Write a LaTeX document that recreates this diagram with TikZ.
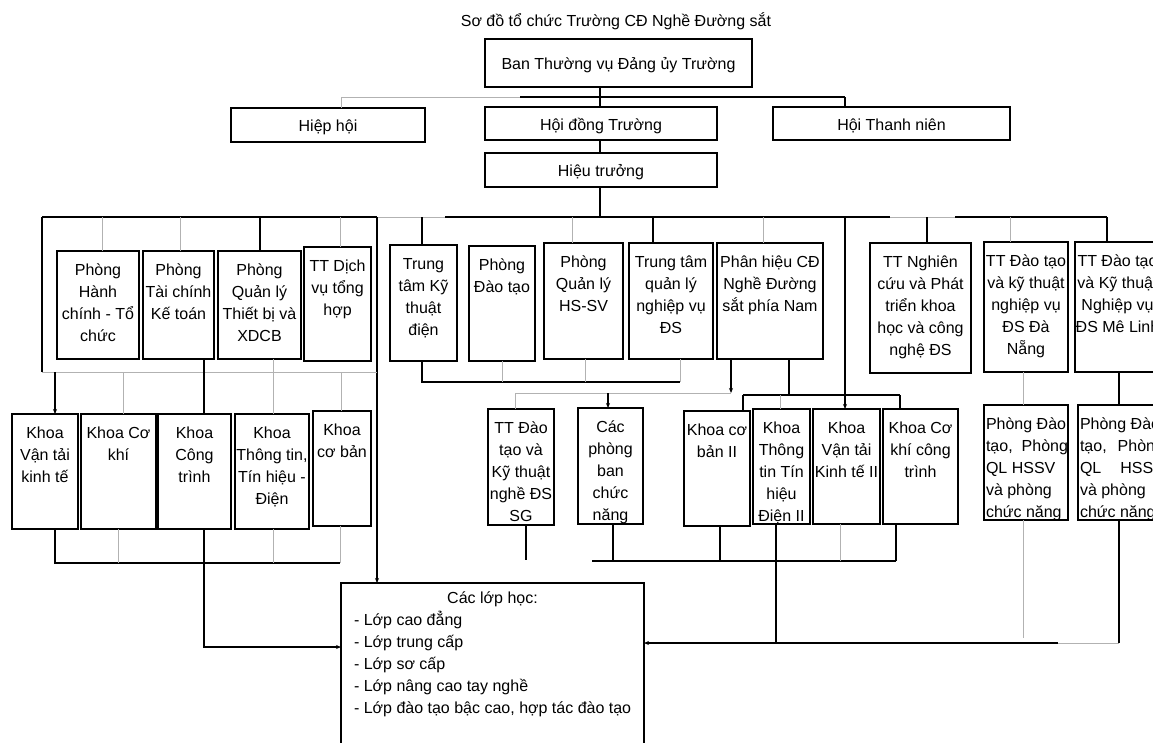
\documentclass[tikz,border=0pt]{standalone}
\usepackage{fontspec}
\setmainfont{Liberation Sans}
\usetikzlibrary{arrows.meta}

% multi-line box: name, left, top, right, bottom, text (top aligned, centred)
\newcommand\orgbox[6]{\node[bx] (#1) at (#2,#3)
  {\parbox[c][\dimexpr #5pt-#3pt\relax][t]{\dimexpr #4pt-#2pt\relax}{\centering\rule{0pt}{24pt}#6\par}};}
% single-line box: text centred both ways
\newcommand\onebox[6]{\node[bx] (#1) at (#2,#3)
  {\parbox[c][\dimexpr #5pt-#3pt\relax][c]{\dimexpr #4pt-#2pt\relax}{\centering\raisebox{-2.5pt}[\height][\depth]{#6}\par}};}
% box with left-aligned text
\newcommand\leftbox[6]{\node[bx] (#1) at (#2,#3)
  {\parbox[c][\dimexpr #5pt-#3pt\relax][t]{\dimexpr #4pt-#2pt\relax}{\raggedright\leftskip=2pt\rule{0pt}{24pt}#6\par}};}

\begin{document}
\begin{tikzpicture}[x=1pt,y=-1pt,
  every node/.style={font=\fontsize{16pt}{22pt}\selectfont},
  bx/.style={draw, line width=1.8pt, anchor=north west, inner sep=0pt, outer sep=0pt, fill=white},
  ln/.style={line width=1.5pt, black},
  fl/.style={line width=1pt, black!30},
  tip/.style={-{Stealth[length=5pt,width=4pt]}}]
\useasboundingbox (0,0) rectangle (1153,742);
\clip (0,0) rectangle (1153,742);

% ---------- title and top levels ----------
\node (title) at (616,21) {Sơ đồ tổ chức Trường CĐ Nghề Đường sắt};
\onebox{ban}{485}{39}{752}{87}{Ban Thường vụ Đảng ủy Trường}
\onebox{hoidong}{485}{107}{717}{140}{Hội đồng Trường}
\onebox{hieutruong}{485}{153}{717}{187}{Hiệu trưởng}
\onebox{hiephoi}{231}{108}{425}{142}{Hiệp hội}
\onebox{thanhnien}{773}{107}{1010}{140}{Hội Thanh niên}

% ---------- second row ----------
\orgbox{phc}{57}{251}{139}{359}{Phòng\\Hành\\chính - Tổ\\chức}
\orgbox{ptc}{143}{251}{214}{359}{Phòng\\Tài chính\\Kế toán}
\orgbox{pql}{218}{251}{301}{359}{Phòng\\Quản lý\\Thiết bị và\\XDCB}
\orgbox{ttdv}{304}{247}{371}{361}{TT Dịch\\vụ tổng\\hợp}
\orgbox{ttkt}{390}{245}{457}{361}{Trung\\tâm Kỹ\\thuật\\điện}
\orgbox{pdt}{469}{246}{535}{361}{Phòng\\Đào tạo}
\orgbox{pqlhs}{544}{243}{623}{359}{Phòng\\Quản lý\\HS-SV}
\orgbox{ttqlnv}{629}{243}{713}{359}{Trung tâm\\quản lý\\nghiệp vụ\\ĐS}
\orgbox{phanhieu}{717}{243}{823}{359}{Phân hiệu CĐ\\Nghề Đường\\sắt phía Nam}
\orgbox{ttnc}{870}{243}{971}{373}{TT Nghiên\\cứu và Phát\\triển khoa\\học và công\\nghệ ĐS}
\orgbox{ttdn}{984}{242}{1068}{372}{TT Đào tạo\\và kỹ thuật\\nghiệp vụ\\ĐS Đà\\Nẵng}
\orgbox{ttml}{1075}{242}{1160}{372}{TT Đào tạo\\và Kỹ thuật\\Nghiệp vụ\\ĐS Mê Linh}

% ---------- third row ----------
\orgbox{kvt}{12}{414}{78}{529}{Khoa\\Vận tải\\kinh tế}
\orgbox{kck}{81}{414}{156}{529}{Khoa Cơ\\khí}
\orgbox{kct}{158}{414}{231}{529}{Khoa\\Công\\trình}
\orgbox{kttd}{235}{414}{309}{529}{Khoa\\Thông tin,\\Tín hiệu -\\Điện}
\orgbox{kcb}{313}{411}{371}{526}{Khoa\\cơ bản}
\orgbox{ttsg}{488}{409}{554}{525}{TT Đào\\tạo và\\Kỹ thuật\\nghề ĐS\\SG}
\orgbox{cpb}{578}{408}{643}{524}{Các\\phòng\\ban\\chức\\năng}
\orgbox{kcb2}{684}{411}{750}{526}{Khoa cơ\\bản II}
\orgbox{ktt2}{753}{409}{810}{524}{Khoa\\Thông\\tin Tín\\hiệu\\Điện II}
\orgbox{kvt2}{813}{409}{880}{524}{Khoa\\Vận tải\\Kinh tế II}
\orgbox{kckct}{883}{409}{958}{524}{Khoa Cơ\\khí công\\trình}
\leftbox{pdn}{984}{405}{1068}{520}{Phòng Đào\\tạo,\hfill Phòng\\QL HSSV\\và phòng\\chức năng}
\leftbox{pml}{1078}{405}{1164}{520}{Phòng Đào\\tạo,\hfill Phòng\\QL\hfill HSSV\\và phòng\\chức năng}

% ---------- classes ----------
\node[bx] (lop) at (341,583) {\parbox[c][180pt][t]{303pt}{\centering\rule{0pt}{20pt}Các lớp học:\par
  \raggedright\leftskip=13pt
  - Lớp cao đẳng\\
  - Lớp trung cấp\\
  - Lớp sơ cấp\\
  - Lớp nâng cao tay nghề\\
  - Lớp đào tạo bậc cao, hợp tác đào tạo\par}};

% ---------- upper connectors ----------
\coordinate (tb) at (600,97);
\coordinate (tbH) at (341,97);
\coordinate (tbL) at (520,97);
\coordinate (tbR) at (845,97);
\coordinate (mb) at (600,217);
\draw[ln] (ban.south -| tb) -- (hoidong.north -| tb);
\draw[ln] (hoidong.south -| tb) -- (hieutruong.north -| tb);
\draw[ln] (hieutruong.south -| mb) -- (mb);
\draw[fl] (tbH) -- (tbL);
\draw[ln] (tbL) -- (tbR);
\draw[fl] (tbH) -- (hiephoi.north -| tbH);
\draw[ln] (tbR) -- (thanhnien.north -| tbR);

% main bus under the principal
\coordinate (mL) at (42,217);
\coordinate (m377) at (377,217);
\coordinate (m445) at (445,217);
\coordinate (m890) at (890,217);
\coordinate (m955) at (955,217);
\coordinate (mR) at (1107,217);
\draw[ln] (mL) -- (m377);
\draw[fl] (m377) -- (m445);
\draw[ln] (m445) -- (m890);
\draw[fl] (m890) -- (m955);
\draw[ln] (m955) -- (mR);

\coordinate (d102) at (102,217);
\coordinate (d180) at (180,217);
\coordinate (d260) at (260,217);
\coordinate (d340) at (340,217);
\coordinate (d422) at (422,217);
\coordinate (d572) at (572,217);
\coordinate (d653) at (653,217);
\coordinate (d763) at (763,217);
\coordinate (d845) at (845,217);
\coordinate (d927) at (927,217);
\coordinate (d1010) at (1010,217);
\draw[fl] (d102) -- (phc.north -| d102);
\draw[fl] (d180) -- (ptc.north -| d180);
\draw[ln] (d260) -- (pql.north -| d260);
\draw[fl] (d340) -- (ttdv.north -| d340);
\draw[ln] (d422) -- (ttkt.north -| d422);
\draw[fl] (d572) -- (pqlhs.north -| d572);
\draw[ln] (d653) -- (ttqlnv.north -| d653);
\draw[fl] (d763) -- (phanhieu.north -| d763);
\draw[ln] (d927) -- (ttnc.north -| d927);
\draw[fl] (d1010) -- (ttdn.north -| d1010);
\draw[ln] (mR) -- (ttml.north -| mR);
\draw[ln,tip] (m377) -- (lop.north -| m377);
\draw[ln,tip] (d845) -- (kvt2.north -| d845);

% ---------- left group ----------
\coordinate (lb) at (42,372);
\coordinate (lbR) at (377,372);
\coordinate (l55) at (55,372);
\coordinate (l123) at (123,372);
\coordinate (l341) at (341,372);
\coordinate (x204) at (204,0);
\coordinate (x273) at (273,0);
\draw[ln] (mL) -- (lb);
\draw[fl] (lb) -- (lbR);
\draw[ln,tip] (l55) -- (kvt.north -| l55);
\draw[fl] (l123) -- (kck.north -| l123);
\draw[fl] (l341) -- (kcb.north -| l341);
\draw[ln] (ptc.south -| x204) -- (kct.north -| x204);
\draw[fl] (pql.south -| x273) -- (kttd.north -| x273);

\coordinate (lo55) at (55,563);
\coordinate (lo118) at (118,563);
\coordinate (lo273) at (273,563);
\coordinate (lo340) at (340,563);
\coordinate (lc) at (204,647);
\draw[ln] (kvt.south -| lo55) -- (lo55) -- (lo340);
\draw[fl] (kck.south -| lo118) -- (lo118);
\draw[fl] (kttd.south -| lo273) -- (lo273);
\draw[fl] (kcb.south -| lo340) -- (lo340);
\draw[ln,tip] (kct.south -| lc) -- (lc) -- (lop.west |- lc);

% ---------- middle group ----------
\coordinate (mb422) at (422,382);
\coordinate (mb502) at (502,382);
\coordinate (mb585) at (585,382);
\coordinate (mb680) at (680,382);
\draw[ln] (ttkt.south -| mb422) -- (mb422) -- (mb680);
\draw[fl] (pdt.south -| mb502) -- (mb502);
\draw[fl] (pqlhs.south -| mb585) -- (mb585);
\draw[fl] (ttqlnv.south -| mb680) -- (mb680);

\coordinate (p731) at (731,393);
\coordinate (p515) at (515,393);
\coordinate (p608) at (608,393);
\draw[ln,tip] (phanhieu.south -| p731) -- (p731);
\draw[fl] (p731) -- (p515);
\draw[fl] (p515) -- (ttsg.north -| p515);
\draw[ln,tip] (p608) -- (cpb.north -| p608);

\coordinate (p789) at (789,395);
\coordinate (p743) at (743,395);
\coordinate (p780) at (780,395);
\coordinate (p900) at (900,395);
\draw[ln] (phanhieu.south -| p789) -- (p789);
\draw[ln] (p743) -- (p900);
\draw[ln] (p743) -- (kcb2.north -| p743);
\draw[fl] (p780) -- (ktt2.north -| p780);
\draw[ln] (p900) -- (kckct.north -| p900);

\coordinate (q526) at (526,560);
\coordinate (q592) at (592,561);
\coordinate (q613) at (613,561);
\coordinate (q720) at (720,561);
\coordinate (q840) at (840,561);
\coordinate (q896) at (896,561);
\draw[ln] (ttsg.south -| q526) -- (q526);
\draw[ln] (q592) -- (q896);
\draw[ln] (cpb.south -| q613) -- (q613);
\draw[ln] (kcb2.south -| q720) -- (q720);
\draw[fl] (kvt2.south -| q840) -- (q840);
\draw[ln] (kckct.south -| q896) -- (q896);

% ---------- bottom return line ----------
\coordinate (r776) at (776,643);
\coordinate (r1058) at (1058,643);
\coordinate (r1119) at (1119,643);
\coordinate (s1023) at (1023,638);
\coordinate (x1023) at (1023,0);
\coordinate (x1119) at (1119,0);
\draw[ln] (ktt2.south -| r776) -- (r776);
\draw[ln,tip] (r1058) -- (lop.east |- r1058);
\draw[fl] (r1058) -- (r1119);
\draw[fl] (ttdn.south -| x1023) -- (pdn.north -| x1023);
\draw[fl] (pdn.south -| s1023) -- (s1023);
\draw[ln] (ttml.south -| x1119) -- (pml.north -| x1119);
\draw[ln] (pml.south -| x1119) -- (r1119);
\end{tikzpicture}
\end{document}
